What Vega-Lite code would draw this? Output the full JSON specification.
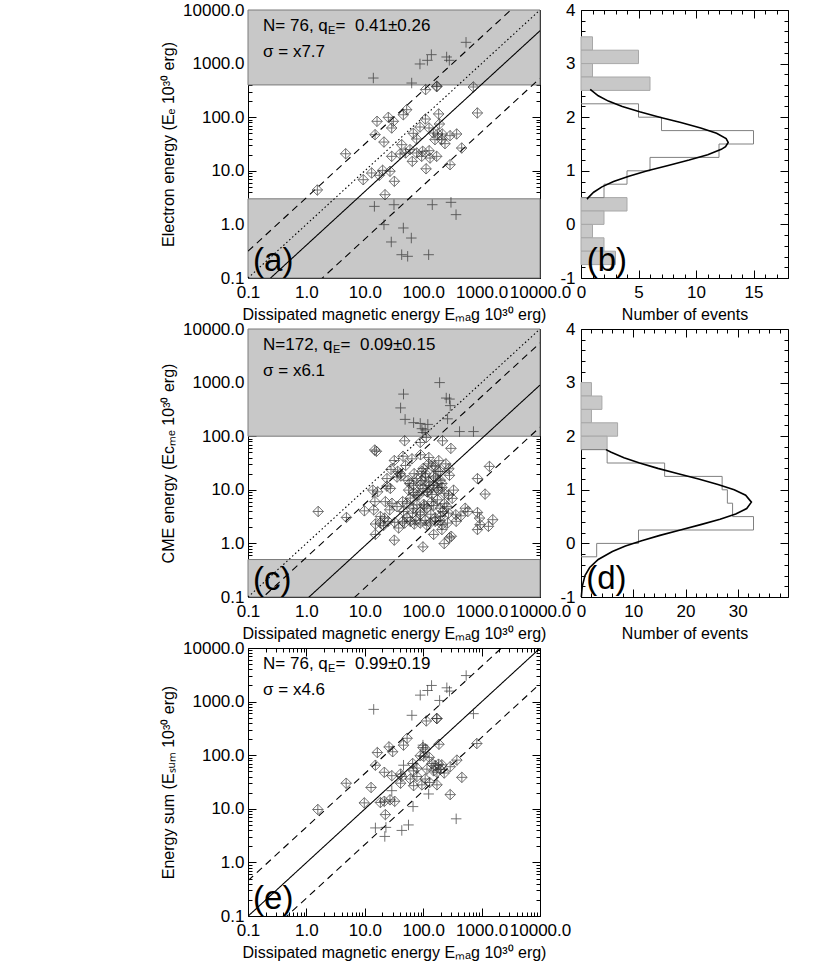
{
"$schema": "https://vega.github.io/schema/vega-lite/v6.json",
"background": "white",
"padding": {"left": 160, "top": 0, "right": 5, "bottom": 2},
"config": {
  "view": {"stroke": "black", "strokeWidth": 1},
  "font": "Liberation Sans",
  "axis": {"domain": false, "grid": false, "zindex": 1, "labelFont": "Liberation Sans", "labelFontSize": 17, "labelColor": "black", "titleFont": "Liberation Sans", "titleFontSize": 16, "titleFontWeight": "normal", "titleColor": "black", "tickColor": "black", "tickWidth": 1, "labelOverlap": false, "labelFlush": false, "labelBound": false},
  "text": {"font": "Liberation Sans", "color": "black"}
},
"datasets": {
  "ptsA": [
    {"x":541,"y":2495,"s":"out"},{"x":138,"y":1468,"s":"out"},{"x":118,"y":1151,"s":"out"},{"x":88,"y":984,"s":"out"},{"x":252,"y":1328,"s":"out"},{"x":280,"y":1151,"s":"out"},{"x":14,"y":538,"s":"out"},{"x":63.5,"y":434,"s":"out"},{"x":14.6,"y":2.17,"s":"out"},{"x":31.6,"y":2.33,"s":"out"},{"x":143,"y":2.33,"s":"out"},{"x":299,"y":2.58,"s":"out"},{"x":365,"y":1.52,"s":"out"},{"x":21.3,"y":0.99,"s":"out"},{"x":45.7,"y":0.857,"s":"out"},{"x":62.6,"y":0.557,"s":"out"},{"x":28.4,"y":0.47,"s":"out"},{"x":42.8,"y":0.272,"s":"out"},{"x":54.2,"y":0.254,"s":"out"},{"x":124,"y":0.272,"s":"out"},
    {"x":170,"y":371,"s":"in"},{"x":172,"y":380,"s":"in"},{"x":110,"y":327,"s":"in"},{"x":721,"y":366,"s":"in"},{"x":52.1,"y":138,"s":"in"},{"x":45.7,"y":111,"s":"in"},{"x":845,"y":120,"s":"in"},{"x":109,"y":92.5,"s":"in"},{"x":184,"y":115,"s":"in"},{"x":189,"y":74.6,"s":"in"},{"x":16.2,"y":83.8,"s":"in"},{"x":25.3,"y":99.5,"s":"in"},{"x":30.8,"y":83.8,"s":"in"},{"x":28.9,"y":62.9,"s":"in"},{"x":15,"y":47.2,"s":"in"},{"x":88.1,"y":65.6,"s":"in"},{"x":126,"y":62.9,"s":"in"},{"x":149,"y":50.7,"s":"in"},{"x":177,"y":48.6,"s":"in"},{"x":212,"y":48.6,"s":"in"},{"x":288,"y":45.2,"s":"in"},{"x":374,"y":48.6,"s":"in"},{"x":67.7,"y":50,"s":"in"},{"x":77.3,"y":39.2,"s":"in"},{"x":159,"y":38.1,"s":"in"},{"x":207,"y":38.1,"s":"in"},{"x":236,"y":32.1,"s":"in"},{"x":21.3,"y":34.4,"s":"in"},{"x":42.8,"y":30.7,"s":"in"},{"x":456,"y":26.6,"s":"in"},{"x":4.7,"y":20.8,"s":"in"},{"x":28.9,"y":18.6,"s":"in"},{"x":40.1,"y":20.6,"s":"in"},{"x":50.1,"y":21.5,"s":"in"},{"x":59.4,"y":24.8,"s":"in"},{"x":77.3,"y":21.5,"s":"in"},{"x":98,"y":23.1,"s":"in"},{"x":126,"y":23.7,"s":"in"},{"x":94.2,"y":18.6,"s":"in"},{"x":131,"y":17.3,"s":"in"},{"x":170,"y":18.6,"s":"in"},{"x":65.1,"y":15,"s":"in"},{"x":288,"y":13,"s":"in"},{"x":112,"y":10.9,"s":"in"},{"x":13.1,"y":9.1,"s":"in"},{"x":17.7,"y":8.24,"s":"in"},{"x":20.2,"y":10.2,"s":"in"},{"x":27,"y":9.8,"s":"in"},{"x":9.4,"y":6.82,"s":"in"},{"x":32.1,"y":6.37,"s":"in"},{"x":1.54,"y":4.38,"s":"in"},{"x":22.2,"y":3.58,"s":"in"}
  ],
  "ptsC": [
    {"x":191,"y":1000,"s":"out"},{"x":46,"y":610,"s":"out"},{"x":41,"y":337,"s":"out"},{"x":248,"y":515,"s":"out"},{"x":282,"y":493,"s":"out"},{"x":290,"y":372,"s":"out"},{"x":49,"y":206,"s":"out"},{"x":68.5,"y":179,"s":"out"},{"x":89,"y":173,"s":"out"},{"x":120,"y":166,"s":"out"},{"x":95,"y":138,"s":"out"},{"x":99,"y":117,"s":"out"},{"x":261,"y":211,"s":"out"},{"x":419,"y":122,"s":"out"},{"x":726,"y":122,"s":"out"},{"x":108,"y":131,"s":"out"},
    {"x":48.1,"y":82,"s":"in"},{"x":113,"y":94.4,"s":"in"},{"x":214,"y":82,"s":"in"},{"x":298,"y":59.3,"s":"in"},{"x":14.8,"y":55.2,"s":"in"},{"x":15.8,"y":52.2,"s":"in"},{"x":89,"y":76.4,"s":"in"},
    {"x":45.1,"y":42.3,"s":"in"},{"x":64.2,"y":37.8,"s":"in"},{"x":32,"y":35.2,"s":"in"},{"x":50,"y":28.4,"s":"in"},{"x":124,"y":30.5,"s":"in"},{"x":141,"y":27.7,"s":"in"},{"x":244,"y":30.5,"s":"in"},{"x":275,"y":24.7,"s":"in"},{"x":28.1,"y":24,"s":"in"},{"x":36.5,"y":22.1,"s":"in"},{"x":40.6,"y":20,"s":"in"},{"x":41.7,"y":18.1,"s":"in"},{"x":1361,"y":27.3,"s":"in"},{"x":196,"y":22.1,"s":"in"},{"x":95,"y":22.1,"s":"in"},
    {"x":24,"y":16.2,"s":"in"},{"x":35.6,"y":17.3,"s":"in"},{"x":76.2,"y":16.2,"s":"in"},{"x":108,"y":17.3,"s":"in"},{"x":161,"y":16.6,"s":"in"},{"x":196,"y":15.1,"s":"in"},{"x":282,"y":18.6,"s":"in"},{"x":850,"y":16.2,"s":"in"},{"x":58.6,"y":13.1,"s":"in"},{"x":68.5,"y":12.2,"s":"in"},{"x":89,"y":12.2,"s":"in"},{"x":124,"y":14,"s":"in"},{"x":151,"y":12.2,"s":"in"},{"x":172,"y":10.9,"s":"in"},{"x":209,"y":13.1,"s":"in"},{"x":99,"y":10.6,"s":"in"},{"x":116,"y":9.18,"s":"in"},{"x":141,"y":8.2,"s":"in"},{"x":181,"y":9.86,"s":"in"},{"x":229,"y":8.57,"s":"in"},{"x":27.4,"y":10.6,"s":"in"},{"x":24,"y":11.7,"s":"in"},{"x":13.7,"y":9.86,"s":"in"},{"x":16.6,"y":9.18,"s":"in"},{"x":56.3,"y":9.86,"s":"in"},{"x":68.5,"y":8.93,"s":"in"},{"x":78.2,"y":7.98,"s":"in"},{"x":331,"y":9.86,"s":"in"},{"x":272,"y":7.98,"s":"in"},{"x":1148,"y":8.32,"s":"in"},
    {"x":14.9,"y":6.01,"s":"in"},{"x":22.5,"y":6.01,"s":"in"},{"x":29.2,"y":5.6,"s":"in"},{"x":35.6,"y":4.86,"s":"in"},{"x":44.5,"y":6.01,"s":"in"},{"x":52.7,"y":5.6,"s":"in"},{"x":68.5,"y":4.53,"s":"in"},{"x":78.2,"y":5.22,"s":"in"},{"x":102,"y":5.37,"s":"in"},{"x":116,"y":4.53,"s":"in"},{"x":151,"y":5.08,"s":"in"},{"x":196,"y":4.53,"s":"in"},{"x":254,"y":4.86,"s":"in"},{"x":314,"y":6.92,"s":"in"},{"x":14.2,"y":4.23,"s":"in"},{"x":9.84,"y":4.05,"s":"in"},{"x":26.7,"y":4.23,"s":"in"},{"x":46.2,"y":3.94,"s":"in"},{"x":65.9,"y":3.67,"s":"in"},{"x":89,"y":3.83,"s":"in"},{"x":217,"y":3.94,"s":"in"},{"x":272,"y":3.67,"s":"in"},{"x":362,"y":3.42,"s":"in"},{"x":524,"y":4.53,"s":"in"},{"x":581,"y":3.94,"s":"in"},{"x":850,"y":3.78,"s":"in"},{"x":1.59,"y":3.94,"s":"in"},{"x":4.85,"y":3.05,"s":"in"},{"x":89,"y":3.42,"s":"in"},
    {"x":18.5,"y":3.18,"s":"in"},{"x":21.9,"y":2.97,"s":"in"},{"x":25,"y":2.58,"s":"in"},{"x":18.5,"y":2.4,"s":"in"},{"x":15.2,"y":2.3,"s":"in"},{"x":21,"y":2.17,"s":"in"},{"x":32.5,"y":2.47,"s":"in"},{"x":44.5,"y":2.58,"s":"in"},{"x":48.1,"y":2.4,"s":"in"},{"x":60.1,"y":2.58,"s":"in"},{"x":70.3,"y":2.3,"s":"in"},{"x":89,"y":2.4,"s":"in"},{"x":108,"y":2.69,"s":"in"},{"x":132,"y":2.4,"s":"in"},{"x":161,"y":2.58,"s":"in"},{"x":196,"y":2.65,"s":"in"},{"x":209,"y":2.24,"s":"in"},{"x":261,"y":2.4,"s":"in"},{"x":367,"y":2.58,"s":"in"},{"x":442,"y":3.27,"s":"in"},{"x":920,"y":2.97,"s":"in"},{"x":944,"y":2.24,"s":"in"},{"x":1309,"y":2.08,"s":"in"},{"x":1553,"y":2.77,"s":"in"},{"x":850,"y":1.81,"s":"in"},{"x":38,"y":1.94,"s":"in"},{"x":52.7,"y":3.05,"s":"in"},
    {"x":15.2,"y":1.47,"s":"in"},{"x":32,"y":1.15,"s":"in"},{"x":151,"y":1.47,"s":"in"},{"x":209,"y":1.81,"s":"in"},{"x":229,"y":0.99,"s":"in"},{"x":282,"y":1.27,"s":"in"},{"x":302,"y":1.36,"s":"in"},{"x":99,"y":0.86,"s":"in"},
    {"x":100,"y":25,"s":"in"},{"x":110,"y":20,"s":"in"},{"x":130,"y":12,"s":"in"},{"x":150,"y":18,"s":"in"},{"x":95,"y":15,"s":"in"},{"x":120,"y":9,"s":"in"},{"x":140,"y":6,"s":"in"},{"x":85,"y":8,"s":"in"},{"x":105,"y":5,"s":"in"},{"x":175,"y":6.5,"s":"in"},{"x":160,"y":3,"s":"in"},{"x":135,"y":3.5,"s":"in"},{"x":75,"y":2.7,"s":"in"},{"x":200,"y":3.2,"s":"in"},{"x":230,"y":5.5,"s":"in"},{"x":60,"y":7,"s":"in"},{"x":55,"y":15,"s":"in"},{"x":70,"y":20,"s":"in"},{"x":180,"y":22,"s":"in"},{"x":210,"y":11,"s":"in"},{"x":125,"y":40,"s":"in"},{"x":90,"y":45,"s":"in"},{"x":160,"y":28,"s":"in"},{"x":185,"y":35,"s":"in"},{"x":115,"y":2.2,"s":"in"}
  ],
  "ptsE": [
    {"x":544,"y":3060,"s":"out"},{"x":139,"y":2000,"s":"out"},{"x":119,"y":1610,"s":"out"},{"x":89,"y":1320,"s":"out"},{"x":254,"y":1810,"s":"out"},{"x":282,"y":1570,"s":"out"},{"x":191,"y":1050,"s":"out"},{"x":14.2,"y":716,"s":"out"},{"x":64,"y":555,"s":"out"},{"x":726,"y":596,"s":"out"},{"x":46,"y":65,"s":"out"},{"x":99,"y":154,"s":"out"},{"x":29,"y":21.8,"s":"out"},{"x":124,"y":18.9,"s":"out"},{"x":67,"y":11,"s":"out"},{"x":15.2,"y":4.4,"s":"out"},{"x":23,"y":4.5,"s":"out"},{"x":22,"y":3.05,"s":"out"},{"x":43,"y":3.95,"s":"out"},{"x":56,"y":5,"s":"out"},{"x":367,"y":6.5,"s":"out"},
    {"x":113,"y":435,"s":"in"},{"x":172,"y":481,"s":"in"},{"x":170,"y":485,"s":"in"},{"x":828,"y":165,"s":"in"},{"x":53,"y":207,"s":"in"},{"x":46,"y":154,"s":"in"},{"x":186,"y":160,"s":"in"},{"x":26,"y":143,"s":"in"},{"x":30,"y":116,"s":"in"},{"x":16.4,"y":112,"s":"in"},{"x":99,"y":139,"s":"in"},{"x":110,"y":130,"s":"in"},{"x":15.2,"y":65,"s":"in"},{"x":21.6,"y":48,"s":"in"},{"x":29,"y":41.5,"s":"in"},{"x":41,"y":44.5,"s":"in"},{"x":89,"y":97.5,"s":"in"},{"x":127,"y":91,"s":"in"},{"x":102,"y":95,"s":"in"},{"x":66,"y":70,"s":"in"},{"x":78,"y":57.5,"s":"in"},{"x":68.5,"y":51,"s":"in"},{"x":141,"y":70,"s":"in"},{"x":161,"y":64,"s":"in"},{"x":183,"y":68,"s":"in"},{"x":209,"y":66,"s":"in"},{"x":290,"y":61,"s":"in"},{"x":377,"y":81,"s":"in"},{"x":116,"y":55,"s":"in"},{"x":151,"y":51,"s":"in"},{"x":172,"y":48,"s":"in"},{"x":196,"y":54,"s":"in"},{"x":229,"y":46.5,"s":"in"},{"x":12.8,"y":25,"s":"in"},{"x":21.6,"y":13.8,"s":"in"},{"x":18.5,"y":13.1,"s":"in"},{"x":9.8,"y":12.9,"s":"in"},{"x":43,"y":40,"s":"in"},{"x":60,"y":36,"s":"in"},{"x":78,"y":40,"s":"in"},{"x":108,"y":36,"s":"in"},{"x":129,"y":31,"s":"in"},{"x":172,"y":28,"s":"in"},{"x":4.8,"y":30,"s":"in"},{"x":41,"y":30,"s":"in"},{"x":68.5,"y":27,"s":"in"},{"x":95,"y":28,"s":"in"},{"x":290,"y":18.4,"s":"in"},{"x":459,"y":38.6,"s":"in"},{"x":1.57,"y":9.7,"s":"in"},{"x":32.5,"y":13.8,"s":"in"},{"x":27,"y":14.7,"s":"in"},{"x":22.5,"y":7.8,"s":"in"}
  ],
  "bandsA": [{"lo":400,"hi":10000},{"lo":0.1,"hi":3.0}],
  "bandsC": [{"lo":100,"hi":10000},{"lo":0.1,"hi":0.5}],
  "linesA": [{"l":"dotted","x":0.1,"y":0.1},{"l":"dotted","x":10000,"y":10000},{"l":"solid","x":0.1,"y":0.041},{"l":"solid","x":10000,"y":4100},{"l":"dashhi","x":0.1,"y":0.316},{"l":"dashhi","x":10000,"y":31600},{"l":"dashlo","x":0.1,"y":0.00532},{"l":"dashlo","x":10000,"y":532}],
  "linesC": [{"l":"dotted","x":0.1,"y":0.1},{"l":"dotted","x":10000,"y":10000},{"l":"solid","x":0.1,"y":0.009},{"l":"solid","x":10000,"y":900},{"l":"dashhi","x":0.1,"y":0.0549},{"l":"dashhi","x":10000,"y":5490},{"l":"dashlo","x":0.1,"y":0.001475},{"l":"dashlo","x":10000,"y":147.5}],
  "linesE": [{"l":"solid","x":0.1,"y":0.099},{"l":"solid","x":10000,"y":9900},{"l":"dashhi","x":0.1,"y":0.4554},{"l":"dashhi","x":10000,"y":45540},{"l":"dashlo","x":0.1,"y":0.02152},{"l":"dashlo","x":10000,"y":2152}],
  "grayB": [{"lo":3.25,"hi":3.5,"n":1},{"lo":3.0,"hi":3.25,"n":5},{"lo":2.75,"hi":3.0,"n":1},{"lo":2.5,"hi":2.75,"n":6},{"lo":0.25,"hi":0.5,"n":4},{"lo":0,"hi":0.25,"n":2},{"lo":-0.25,"hi":0,"n":1},{"lo":-0.5,"hi":-0.25,"n":2},{"lo":-0.75,"hi":-0.5,"n":3}],
  "outlineB": [{"k":1,"n":0,"v":2.25},{"k":2,"n":5,"v":2.25},{"k":3,"n":5,"v":2.0},{"k":4,"n":7,"v":2.0},{"k":5,"n":7,"v":1.75},{"k":6,"n":15,"v":1.75},{"k":7,"n":15,"v":1.5},{"k":8,"n":12,"v":1.5},{"k":9,"n":12,"v":1.25},{"k":10,"n":6,"v":1.25},{"k":11,"n":6,"v":1.0},{"k":12,"n":4,"v":1.0},{"k":13,"n":4,"v":0.75},{"k":14,"n":2,"v":0.75},{"k":15,"n":2,"v":0.5},{"k":16,"n":0,"v":0.5}],
  "gaussB": [{"v":2.52,"n":0.8},{"v":2.4,"n":1.5},{"v":2.3,"n":2.38},{"v":2.2,"n":3.59},{"v":2.1,"n":5.1},{"v":2.0,"n":6.84},{"v":1.9,"n":8.68},{"v":1.8,"n":10.41},{"v":1.7,"n":11.79},{"v":1.6,"n":12.62},{"v":1.53,"n":12.8},{"v":1.45,"n":12.57},{"v":1.4,"n":12.2},{"v":1.3,"n":11.02},{"v":1.2,"n":9.4},{"v":1.1,"n":7.58},{"v":1.0,"n":5.77},{"v":0.9,"n":4.16},{"v":0.8,"n":2.83},{"v":0.7,"n":1.82},{"v":0.6,"n":1.1},{"v":0.5,"n":0.63},{"v":0.47,"n":0.53}],
  "grayD": [{"lo":2.75,"hi":3.0,"n":2},{"lo":2.5,"hi":2.75,"n":4},{"lo":2.25,"hi":2.5,"n":2},{"lo":2.0,"hi":2.25,"n":7},{"lo":1.75,"hi":2.0,"n":5}],
  "outlineD": [{"k":1,"n":0,"v":1.75},{"k":2,"n":5,"v":1.75},{"k":3,"n":5,"v":1.5},{"k":4,"n":16,"v":1.5},{"k":5,"n":16,"v":1.25},{"k":6,"n":27,"v":1.25},{"k":7,"n":27,"v":1.0},{"k":8,"n":28,"v":1.0},{"k":9,"n":28,"v":0.75},{"k":10,"n":29,"v":0.75},{"k":11,"n":29,"v":0.5},{"k":12,"n":33,"v":0.5},{"k":13,"n":33,"v":0.25},{"k":14,"n":11,"v":0.25},{"k":15,"n":11,"v":0},{"k":16,"n":3,"v":0},{"k":17,"n":3,"v":-0.25},{"k":18,"n":0,"v":-0.25}],
  "gaussD": [{"v":1.75,"n":4.78},{"v":1.7,"n":5.78},{"v":1.6,"n":8.22},{"v":1.5,"n":11.2},{"v":1.4,"n":14.7},{"v":1.3,"n":18.6},{"v":1.2,"n":22.5},{"v":1.1,"n":26.2},{"v":1.0,"n":29.3},{"v":0.9,"n":31.5},{"v":0.77,"n":32.6},{"v":0.65,"n":31.7},{"v":0.55,"n":29.6},{"v":0.45,"n":26.6},{"v":0.35,"n":22.9},{"v":0.25,"n":19.0},{"v":0.15,"n":15.1},{"v":0.05,"n":11.6},{"v":-0.05,"n":8.5},{"v":-0.15,"n":6.0},{"v":-0.3,"n":3.3},{"v":-0.45,"n":1.66},{"v":-0.6,"n":0.76},{"v":-0.8,"n":0.24},{"v":-1.0,"n":0.06}]
},
"columns": 2,
"spacing": {"row": 51, "column": 41},
"bounds": "flush",
"concat": [
  {
    "width": 292, "height": 268,
    "resolve": {"axis": {"x": "independent", "y": "independent"}},
    "layer": [
      {"data": {"name": "bandsA"}, "mark": {"type": "rect", "fill": "#c8c8c8", "stroke": "#7a7a7a", "strokeWidth": 1},
       "encoding": {"y": {"field": "lo", "type": "quantitative", "scale": {"type": "log", "domain": [0.1, 10000], "nice": false}, "axis": null}, "y2": {"field": "hi"}}},
      {"data": {"name": "linesA"}, "mark": {"type": "line", "color": "black", "strokeWidth": 1.1, "clip": true},
       "encoding": {
         "x": {"field": "x", "type": "quantitative", "scale": {"type": "log", "domain": [0.1, 10000], "nice": false},
               "axis": {"orient": "top", "labels": false, "title": null, "values": [0.1,0.2,0.3,0.4,0.5,0.6,0.7,0.8,0.9,1,2,3,4,5,6,7,8,9,10,20,30,40,50,60,70,80,90,100,200,300,400,500,600,700,800,900,1000,2000,3000,4000,5000,6000,7000,8000,9000,10000], "tickSize": {"condition": {"test": "indexof([0.1,1,10,100,1000,10000], datum.value) >= 0", "value": -8}, "value": -4}}},
         "y": {"field": "y", "type": "quantitative", "scale": {"type": "log", "domain": [0.1, 10000], "nice": false},
               "axis": {"orient": "right", "labels": false, "title": null, "values": [0.1,0.2,0.3,0.4,0.5,0.6,0.7,0.8,0.9,1,2,3,4,5,6,7,8,9,10,20,30,40,50,60,70,80,90,100,200,300,400,500,600,700,800,900,1000,2000,3000,4000,5000,6000,7000,8000,9000,10000], "tickSize": {"condition": {"test": "indexof([0.1,1,10,100,1000,10000], datum.value) >= 0", "value": -8}, "value": -4}}},
         "strokeDash": {"field": "l", "type": "nominal", "scale": {"domain": ["solid","dotted","dashhi","dashlo"], "range": [[1,0],[1.5,2.5],[7,5],[7,5]]}, "legend": null}
       }},
      {"data": {"name": "ptsA"}, "mark": {"type": "point", "filled": false, "color": "#222222", "strokeWidth": 0.9, "size": 110},
       "encoding": {
         "x": {"field": "x", "type": "quantitative", "scale": {"type": "log", "domain": [0.1, 10000], "nice": false},
               "axis": {"orient": "bottom", "title": "Dissipated magnetic energy Eₘₐg 10³⁰ erg)", "titlePadding": 2, "labelPadding": 14, "values": [0.1,0.2,0.3,0.4,0.5,0.6,0.7,0.8,0.9,1,2,3,4,5,6,7,8,9,10,20,30,40,50,60,70,80,90,100,200,300,400,500,600,700,800,900,1000,2000,3000,4000,5000,6000,7000,8000,9000,10000], "labelExpr": "indexof([0.1,1,10,100,1000,10000], datum.value) >= 0 ? format(datum.value, '.1f') : ''", "tickSize": {"condition": {"test": "indexof([0.1,1,10,100,1000,10000], datum.value) >= 0", "value": -8}, "value": -4}}},
         "y": {"field": "y", "type": "quantitative", "scale": {"type": "log", "domain": [0.1, 10000], "nice": false},
               "axis": {"orient": "left", "title": "Electron energy (Eₑ 10³⁰ erg)", "titlePadding": 6, "labelPadding": 12, "values": [0.1,0.2,0.3,0.4,0.5,0.6,0.7,0.8,0.9,1,2,3,4,5,6,7,8,9,10,20,30,40,50,60,70,80,90,100,200,300,400,500,600,700,800,900,1000,2000,3000,4000,5000,6000,7000,8000,9000,10000], "labelExpr": "indexof([0.1,1,10,100,1000,10000], datum.value) >= 0 ? format(datum.value, '.1f') : ''", "tickSize": {"condition": {"test": "indexof([0.1,1,10,100,1000,10000], datum.value) >= 0", "value": -8}, "value": -4}}},
         "shape": {"field": "s", "type": "nominal", "scale": {"domain": ["in", "out"], "range": ["M-1,0L0,-1L1,0L0,1ZM-1,0L1,0M0,-1L0,1", "M-1,0L1,0M0,-1L0,1"]}, "legend": null}
       }},
      {"data": {"values": [{"t": "N=\u00a076, q"}]}, "mark": {"type": "text", "align": "left", "baseline": "alphabetic", "fontSize": 17},
       "encoding": {"x": {"datum": 0.181, "axis": null}, "y": {"datum": 4140, "axis": null}, "text": {"field": "t"}}},
      {"data": {"values": [{"t": "E"}]}, "mark": {"type": "text", "align": "left", "baseline": "alphabetic", "fontSize": 11, "dx": 65, "dy": 3},
       "encoding": {"x": {"datum": 0.181, "axis": null}, "y": {"datum": 4140, "axis": null}, "text": {"field": "t"}}},
      {"data": {"values": [{"t": "=\u00a0\u00a00.41±0.26"}]}, "mark": {"type": "text", "align": "left", "baseline": "alphabetic", "fontSize": 17, "dx": 72.5},
       "encoding": {"x": {"datum": 0.181, "axis": null}, "y": {"datum": 4140, "axis": null}, "text": {"field": "t"}}},
      {"data": {"values": [{"t": "σ = x7.7"}]}, "mark": {"type": "text", "align": "left", "baseline": "alphabetic", "fontSize": 17},
       "encoding": {"x": {"datum": 0.181, "axis": null}, "y": {"datum": 1330, "axis": null}, "text": {"field": "t"}}},
      {"data": {"values": [{"t": "(a)"}]}, "mark": {"type": "text", "align": "left", "baseline": "alphabetic", "fontSize": 33},
       "encoding": {"x": {"datum": 0.122, "axis": null}, "y": {"datum": 0.135, "axis": null}, "text": {"field": "t"}}}
    ]
  },
  {
    "width": 207, "height": 268,
    "resolve": {"axis": {"x": "independent", "y": "independent"}},
    "layer": [
      {"data": {"name": "grayB"}, "mark": {"type": "rect", "fill": "#c8c8c8", "stroke": "#a8a8a8", "strokeWidth": 1},
       "encoding": {
         "x": {"field": "n", "type": "quantitative", "scale": {"domain": [0, 18], "nice": false, "zero": false},
               "axis": {"orient": "bottom", "title": "Number of events", "titlePadding": 2, "labelPadding": 14, "values": [0,1,2,3,4,5,6,7,8,9,10,11,12,13,14,15,16,17,18], "labelExpr": "datum.value % 5 == 0 ? datum.value + '' : ''", "tickSize": {"condition": {"test": "datum.value % 5 == 0", "value": -8}, "value": -4}}},
         "x2": {"datum": 0},
         "y": {"field": "lo", "type": "quantitative", "scale": {"domain": [-1, 4], "nice": false, "zero": false},
               "axis": {"orient": "left", "title": null, "labelPadding": 14, "values": [-1,-0.8,-0.6,-0.4,-0.2,0,0.2,0.4,0.6,0.8,1,1.2,1.4,1.6,1.8,2,2.2,2.4,2.6,2.8,3,3.2,3.4,3.6,3.8,4], "labelExpr": "datum.value % 1 == 0 ? datum.value + '' : ''", "tickSize": {"condition": {"test": "datum.value % 1 == 0", "value": -8}, "value": -4}}},
         "y2": {"field": "hi"}
       }},
      {"data": {"name": "outlineB"}, "mark": {"type": "line", "color": "#808080", "strokeWidth": 1},
       "encoding": {
         "x": {"field": "n", "type": "quantitative", "scale": {"domain": [0, 18], "nice": false, "zero": false},
               "axis": {"orient": "top", "labels": false, "title": null, "values": [0,1,2,3,4,5,6,7,8,9,10,11,12,13,14,15,16,17,18], "tickSize": {"condition": {"test": "datum.value % 5 == 0", "value": -8}, "value": -4}}},
         "y": {"field": "v", "type": "quantitative", "scale": {"domain": [-1, 4], "nice": false, "zero": false},
               "axis": {"orient": "right", "labels": false, "title": null, "values": [-1,-0.8,-0.6,-0.4,-0.2,0,0.2,0.4,0.6,0.8,1,1.2,1.4,1.6,1.8,2,2.2,2.4,2.6,2.8,3,3.2,3.4,3.6,3.8,4], "tickSize": {"condition": {"test": "datum.value % 1 == 0", "value": -8}, "value": -4}}},
         "order": {"field": "k", "type": "quantitative"}
       }},
      {"data": {"name": "gaussB"}, "mark": {"type": "line", "color": "black", "strokeWidth": 1.6},
       "encoding": {
         "x": {"field": "n", "type": "quantitative", "axis": null},
         "y": {"field": "v", "type": "quantitative", "axis": null},
         "order": {"field": "v", "type": "quantitative"}
       }},
      {"data": {"values": [{"t": "(b)"}]}, "mark": {"type": "text", "align": "left", "baseline": "alphabetic", "fontSize": 33},
       "encoding": {"x": {"datum": 0.5, "axis": null}, "y": {"datum": -0.87, "axis": null}, "text": {"field": "t"}}}
    ]
  },
  {
    "width": 292, "height": 268,
    "resolve": {"axis": {"x": "independent", "y": "independent"}},
    "layer": [
      {"data": {"name": "bandsC"}, "mark": {"type": "rect", "fill": "#c8c8c8", "stroke": "#7a7a7a", "strokeWidth": 1},
       "encoding": {"y": {"field": "lo", "type": "quantitative", "scale": {"type": "log", "domain": [0.1, 10000], "nice": false}, "axis": null}, "y2": {"field": "hi"}}},
      {"data": {"name": "linesC"}, "mark": {"type": "line", "color": "black", "strokeWidth": 1.1, "clip": true},
       "encoding": {
         "x": {"field": "x", "type": "quantitative", "scale": {"type": "log", "domain": [0.1, 10000], "nice": false},
               "axis": {"orient": "top", "labels": false, "title": null, "values": [0.1,0.2,0.3,0.4,0.5,0.6,0.7,0.8,0.9,1,2,3,4,5,6,7,8,9,10,20,30,40,50,60,70,80,90,100,200,300,400,500,600,700,800,900,1000,2000,3000,4000,5000,6000,7000,8000,9000,10000], "tickSize": {"condition": {"test": "indexof([0.1,1,10,100,1000,10000], datum.value) >= 0", "value": -8}, "value": -4}}},
         "y": {"field": "y", "type": "quantitative", "scale": {"type": "log", "domain": [0.1, 10000], "nice": false},
               "axis": {"orient": "right", "labels": false, "title": null, "values": [0.1,0.2,0.3,0.4,0.5,0.6,0.7,0.8,0.9,1,2,3,4,5,6,7,8,9,10,20,30,40,50,60,70,80,90,100,200,300,400,500,600,700,800,900,1000,2000,3000,4000,5000,6000,7000,8000,9000,10000], "tickSize": {"condition": {"test": "indexof([0.1,1,10,100,1000,10000], datum.value) >= 0", "value": -8}, "value": -4}}},
         "strokeDash": {"field": "l", "type": "nominal", "scale": {"domain": ["solid","dotted","dashhi","dashlo"], "range": [[1,0],[1.5,2.5],[7,5],[7,5]]}, "legend": null}
       }},
      {"data": {"name": "ptsC"}, "mark": {"type": "point", "filled": false, "color": "#222222", "strokeWidth": 0.9, "size": 110},
       "encoding": {
         "x": {"field": "x", "type": "quantitative", "scale": {"type": "log", "domain": [0.1, 10000], "nice": false},
               "axis": {"orient": "bottom", "title": "Dissipated magnetic energy Eₘₐg 10³⁰ erg)", "titlePadding": 2, "labelPadding": 14, "values": [0.1,0.2,0.3,0.4,0.5,0.6,0.7,0.8,0.9,1,2,3,4,5,6,7,8,9,10,20,30,40,50,60,70,80,90,100,200,300,400,500,600,700,800,900,1000,2000,3000,4000,5000,6000,7000,8000,9000,10000], "labelExpr": "indexof([0.1,1,10,100,1000,10000], datum.value) >= 0 ? format(datum.value, '.1f') : ''", "tickSize": {"condition": {"test": "indexof([0.1,1,10,100,1000,10000], datum.value) >= 0", "value": -8}, "value": -4}}},
         "y": {"field": "y", "type": "quantitative", "scale": {"type": "log", "domain": [0.1, 10000], "nice": false},
               "axis": {"orient": "left", "title": "CME energy (Ecₘₑ 10³⁰ erg)", "titlePadding": 6, "labelPadding": 12, "values": [0.1,0.2,0.3,0.4,0.5,0.6,0.7,0.8,0.9,1,2,3,4,5,6,7,8,9,10,20,30,40,50,60,70,80,90,100,200,300,400,500,600,700,800,900,1000,2000,3000,4000,5000,6000,7000,8000,9000,10000], "labelExpr": "indexof([0.1,1,10,100,1000,10000], datum.value) >= 0 ? format(datum.value, '.1f') : ''", "tickSize": {"condition": {"test": "indexof([0.1,1,10,100,1000,10000], datum.value) >= 0", "value": -8}, "value": -4}}},
         "shape": {"field": "s", "type": "nominal", "scale": {"domain": ["in", "out"], "range": ["M-1,0L0,-1L1,0L0,1ZM-1,0L1,0M0,-1L0,1", "M-1,0L1,0M0,-1L0,1"]}, "legend": null}
       }},
      {"data": {"values": [{"t": "N=172, q"}]}, "mark": {"type": "text", "align": "left", "baseline": "alphabetic", "fontSize": 17},
       "encoding": {"x": {"datum": 0.181, "axis": null}, "y": {"datum": 4140, "axis": null}, "text": {"field": "t"}}},
      {"data": {"values": [{"t": "E"}]}, "mark": {"type": "text", "align": "left", "baseline": "alphabetic", "fontSize": 11, "dx": 70, "dy": 3},
       "encoding": {"x": {"datum": 0.181, "axis": null}, "y": {"datum": 4140, "axis": null}, "text": {"field": "t"}}},
      {"data": {"values": [{"t": "=\u00a0\u00a00.09±0.15"}]}, "mark": {"type": "text", "align": "left", "baseline": "alphabetic", "fontSize": 17, "dx": 77.5},
       "encoding": {"x": {"datum": 0.181, "axis": null}, "y": {"datum": 4140, "axis": null}, "text": {"field": "t"}}},
      {"data": {"values": [{"t": "σ = x6.1"}]}, "mark": {"type": "text", "align": "left", "baseline": "alphabetic", "fontSize": 17},
       "encoding": {"x": {"datum": 0.181, "axis": null}, "y": {"datum": 1330, "axis": null}, "text": {"field": "t"}}},
      {"data": {"values": [{"t": "(c)"}]}, "mark": {"type": "text", "align": "left", "baseline": "alphabetic", "fontSize": 33},
       "encoding": {"x": {"datum": 0.122, "axis": null}, "y": {"datum": 0.135, "axis": null}, "text": {"field": "t"}}}
    ]
  },
  {
    "width": 207, "height": 268,
    "resolve": {"axis": {"x": "independent", "y": "independent"}},
    "layer": [
      {"data": {"name": "grayD"}, "mark": {"type": "rect", "fill": "#c8c8c8", "stroke": "#a8a8a8", "strokeWidth": 1},
       "encoding": {
         "x": {"field": "n", "type": "quantitative", "scale": {"domain": [0, 39.6], "nice": false, "zero": false},
               "axis": {"orient": "bottom", "title": "Number of events", "titlePadding": 2, "labelPadding": 14, "values": [0,2,4,6,8,10,12,14,16,18,20,22,24,26,28,30,32,34,36,38], "labelExpr": "datum.value % 10 == 0 ? datum.value + '' : ''", "tickSize": {"condition": {"test": "datum.value % 10 == 0", "value": -8}, "value": -4}}},
         "x2": {"datum": 0},
         "y": {"field": "lo", "type": "quantitative", "scale": {"domain": [-1, 4], "nice": false, "zero": false},
               "axis": {"orient": "left", "title": null, "labelPadding": 14, "values": [-1,-0.8,-0.6,-0.4,-0.2,0,0.2,0.4,0.6,0.8,1,1.2,1.4,1.6,1.8,2,2.2,2.4,2.6,2.8,3,3.2,3.4,3.6,3.8,4], "labelExpr": "datum.value % 1 == 0 ? datum.value + '' : ''", "tickSize": {"condition": {"test": "datum.value % 1 == 0", "value": -8}, "value": -4}}},
         "y2": {"field": "hi"}
       }},
      {"data": {"name": "outlineD"}, "mark": {"type": "line", "color": "#808080", "strokeWidth": 1},
       "encoding": {
         "x": {"field": "n", "type": "quantitative", "scale": {"domain": [0, 39.6], "nice": false, "zero": false},
               "axis": {"orient": "top", "labels": false, "title": null, "values": [0,2,4,6,8,10,12,14,16,18,20,22,24,26,28,30,32,34,36,38], "tickSize": {"condition": {"test": "datum.value % 10 == 0", "value": -8}, "value": -4}}},
         "y": {"field": "v", "type": "quantitative", "scale": {"domain": [-1, 4], "nice": false, "zero": false},
               "axis": {"orient": "right", "labels": false, "title": null, "values": [-1,-0.8,-0.6,-0.4,-0.2,0,0.2,0.4,0.6,0.8,1,1.2,1.4,1.6,1.8,2,2.2,2.4,2.6,2.8,3,3.2,3.4,3.6,3.8,4], "tickSize": {"condition": {"test": "datum.value % 1 == 0", "value": -8}, "value": -4}}},
         "order": {"field": "k", "type": "quantitative"}
       }},
      {"data": {"name": "gaussD"}, "mark": {"type": "line", "color": "black", "strokeWidth": 1.6},
       "encoding": {
         "x": {"field": "n", "type": "quantitative", "axis": null},
         "y": {"field": "v", "type": "quantitative", "axis": null},
         "order": {"field": "v", "type": "quantitative"}
       }},
      {"data": {"values": [{"t": "(d)"}]}, "mark": {"type": "text", "align": "left", "baseline": "alphabetic", "fontSize": 33},
       "encoding": {"x": {"datum": 1.0, "axis": null}, "y": {"datum": -0.85, "axis": null}, "text": {"field": "t"}}}
    ]
  },
  {
    "width": 292, "height": 268,
    "resolve": {"axis": {"x": "independent", "y": "independent"}},
    "layer": [
      {"data": {"name": "linesE"}, "mark": {"type": "line", "color": "black", "strokeWidth": 1.1, "clip": true},
       "encoding": {
         "x": {"field": "x", "type": "quantitative", "scale": {"type": "log", "domain": [0.1, 10000], "nice": false},
               "axis": {"orient": "top", "labels": false, "title": null, "values": [0.1,0.2,0.3,0.4,0.5,0.6,0.7,0.8,0.9,1,2,3,4,5,6,7,8,9,10,20,30,40,50,60,70,80,90,100,200,300,400,500,600,700,800,900,1000,2000,3000,4000,5000,6000,7000,8000,9000,10000], "tickSize": {"condition": {"test": "indexof([0.1,1,10,100,1000,10000], datum.value) >= 0", "value": -8}, "value": -4}}},
         "y": {"field": "y", "type": "quantitative", "scale": {"type": "log", "domain": [0.1, 10000], "nice": false},
               "axis": {"orient": "right", "labels": false, "title": null, "values": [0.1,0.2,0.3,0.4,0.5,0.6,0.7,0.8,0.9,1,2,3,4,5,6,7,8,9,10,20,30,40,50,60,70,80,90,100,200,300,400,500,600,700,800,900,1000,2000,3000,4000,5000,6000,7000,8000,9000,10000], "tickSize": {"condition": {"test": "indexof([0.1,1,10,100,1000,10000], datum.value) >= 0", "value": -8}, "value": -4}}},
         "strokeDash": {"field": "l", "type": "nominal", "scale": {"domain": ["solid","dotted","dashhi","dashlo"], "range": [[1,0],[1.5,2.5],[7,5],[7,5]]}, "legend": null}
       }},
      {"data": {"name": "ptsE"}, "mark": {"type": "point", "filled": false, "color": "#222222", "strokeWidth": 0.9, "size": 110},
       "encoding": {
         "x": {"field": "x", "type": "quantitative", "scale": {"type": "log", "domain": [0.1, 10000], "nice": false},
               "axis": {"orient": "bottom", "title": "Dissipated magnetic energy Eₘₐg 10³⁰ erg)", "titlePadding": 2, "labelPadding": 14, "values": [0.1,0.2,0.3,0.4,0.5,0.6,0.7,0.8,0.9,1,2,3,4,5,6,7,8,9,10,20,30,40,50,60,70,80,90,100,200,300,400,500,600,700,800,900,1000,2000,3000,4000,5000,6000,7000,8000,9000,10000], "labelExpr": "indexof([0.1,1,10,100,1000,10000], datum.value) >= 0 ? format(datum.value, '.1f') : ''", "tickSize": {"condition": {"test": "indexof([0.1,1,10,100,1000,10000], datum.value) >= 0", "value": -8}, "value": -4}}},
         "y": {"field": "y", "type": "quantitative", "scale": {"type": "log", "domain": [0.1, 10000], "nice": false},
               "axis": {"orient": "left", "title": "Energy sum  (Eₛᵤₘ 10³⁰ erg)", "titlePadding": 6, "labelPadding": 12, "values": [0.1,0.2,0.3,0.4,0.5,0.6,0.7,0.8,0.9,1,2,3,4,5,6,7,8,9,10,20,30,40,50,60,70,80,90,100,200,300,400,500,600,700,800,900,1000,2000,3000,4000,5000,6000,7000,8000,9000,10000], "labelExpr": "indexof([0.1,1,10,100,1000,10000], datum.value) >= 0 ? format(datum.value, '.1f') : ''", "tickSize": {"condition": {"test": "indexof([0.1,1,10,100,1000,10000], datum.value) >= 0", "value": -8}, "value": -4}}},
         "shape": {"field": "s", "type": "nominal", "scale": {"domain": ["in", "out"], "range": ["M-1,0L0,-1L1,0L0,1ZM-1,0L1,0M0,-1L0,1", "M-1,0L1,0M0,-1L0,1"]}, "legend": null}
       }},
      {"data": {"values": [{"t": "N=\u00a076, q"}]}, "mark": {"type": "text", "align": "left", "baseline": "alphabetic", "fontSize": 17},
       "encoding": {"x": {"datum": 0.181, "axis": null}, "y": {"datum": 4140, "axis": null}, "text": {"field": "t"}}},
      {"data": {"values": [{"t": "E"}]}, "mark": {"type": "text", "align": "left", "baseline": "alphabetic", "fontSize": 11, "dx": 65, "dy": 3},
       "encoding": {"x": {"datum": 0.181, "axis": null}, "y": {"datum": 4140, "axis": null}, "text": {"field": "t"}}},
      {"data": {"values": [{"t": "=\u00a0\u00a00.99±0.19"}]}, "mark": {"type": "text", "align": "left", "baseline": "alphabetic", "fontSize": 17, "dx": 72.5},
       "encoding": {"x": {"datum": 0.181, "axis": null}, "y": {"datum": 4140, "axis": null}, "text": {"field": "t"}}},
      {"data": {"values": [{"t": "σ = x4.6"}]}, "mark": {"type": "text", "align": "left", "baseline": "alphabetic", "fontSize": 17},
       "encoding": {"x": {"datum": 0.181, "axis": null}, "y": {"datum": 1330, "axis": null}, "text": {"field": "t"}}},
      {"data": {"values": [{"t": "(e)"}]}, "mark": {"type": "text", "align": "left", "baseline": "alphabetic", "fontSize": 33},
       "encoding": {"x": {"datum": 0.122, "axis": null}, "y": {"datum": 0.135, "axis": null}, "text": {"field": "t"}}}
    ]
  }
]
}
